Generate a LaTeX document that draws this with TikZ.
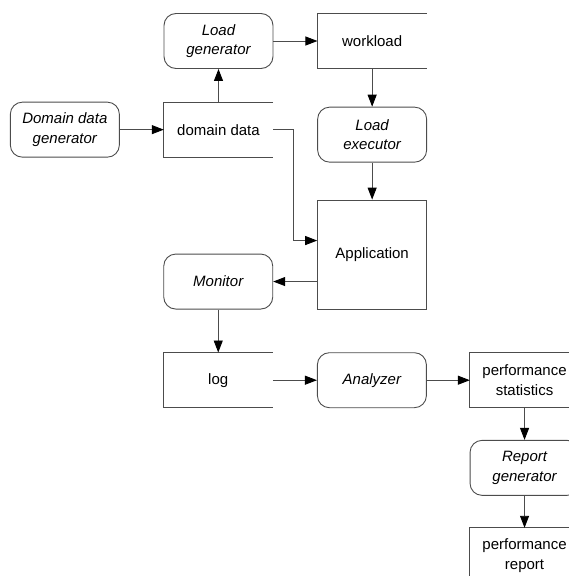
\documentclass[tikz,border=0pt]{standalone}
\usepackage{fontspec}
\setmainfont{Liberation Sans}
\usetikzlibrary{positioning,arrows.meta}

\begin{document}
\begin{tikzpicture}[>={Triangle[length=12pt,width=9pt,color=black]},
	every node/.style={minimum width=109pt,minimum height=55pt,inner sep=0pt,align=center,font=\fontsize{15}{19.5}\selectfont},
	proc/.style={draw=black!70,line width=0.9pt,rounded corners=12pt,font=\fontsize{15}{19.5}\selectfont\itshape},
	store/.style={},
	flow/.style={->,draw=black!70,line width=0.9pt},
	node distance=33pt and 44pt]
	% page
	\useasboundingbox (-218.5pt,41pt) rectangle (350.5pt,-535pt);
	\clip (-218.5pt,41pt) rectangle (350.5pt,-535pt);

	% create the nodes
	\node[proc] (lg) {Load\\generator};
	\node[store] (wl) [right =of lg] {workload};
	\node[store] (dd) [below =of lg] {domain data};
	\node[proc] (ddg) [left =of dd] {Domain data\\generator};
	\node[proc] (le) [below =38pt of wl] {Load\\executor};
	\node[minimum height=109pt,draw=black!70,line width=0.9pt] (app) [below =37pt of le] {Application};
	\node[proc] (mon) [left =44pt of app.south west,anchor=south east] {Monitor};
	\node[store] (log) [below =43pt of mon] {log};
	\node[proc] (an) [right =of log] {Analyzer};
	\node[store] (ps) [right =43pt of an] {performance\\statistics};
	\node[proc] (rg) [below =32pt of ps] {Report\\generator};
	\node[store] (pr) [below =32pt of rg] {performance\\report};

	% open boxes for the data
	\foreach \n in {dd,wl,log,ps,pr}
		\draw[black!70,line width=0.9pt] (\n.north east) -| (\n.south west) -- (\n.south east);

	% connect the nodes
	\draw[flow] (ddg) to (dd);
	\draw[flow] (dd) to (lg);
	\draw[flow] (lg) to (wl);
	\draw[flow] (wl) to (le);
	\draw[flow] (le) to (app);
	\draw[flow] (dd.east) -- ++(20pt,0) |- ([yshift=14pt]app.west);
	\draw[flow] (app.west |- mon.east) -- (mon.east);
	\draw[flow] (mon) to (log);
	\draw[flow] (log) to (an);
	\draw[flow] (an) to (ps);
	\draw[flow] (ps) to (rg);
	\draw[flow] (rg) to (pr);
\end{tikzpicture}
\end{document}
